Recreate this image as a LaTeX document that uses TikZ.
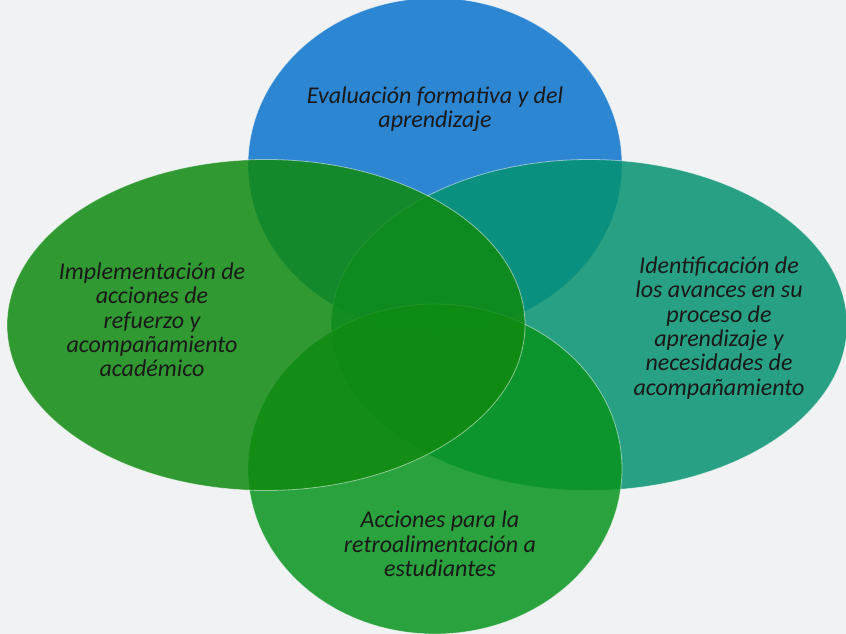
\documentclass[tikz,border=0pt]{standalone}
\usepackage{fontspec}
\setmainfont{Carlito}
\usepackage{tikz}
\usetikzlibrary{shapes.geometric}
\definecolor{bgpaper}{RGB}{241,242,244}
\definecolor{vblue}{RGB}{11,116,205}
\definecolor{vteal}{RGB}{5,146,112}
\definecolor{vgreen}{RGB}{8,148,30}
\definecolor{vleaf}{RGB}{16,138,16}

\begin{document}
\begin{tikzpicture}[
    x=1pt, y=-1pt,
    venn/.style={ellipse, inner sep=0pt, draw=white, draw opacity=0.5,
        line width=0.8pt, fill opacity=0.85},
    label/.style={align=center, text=black!90,
        font=\fontsize{24}{24.3}\selectfont\itshape}
]
    \fill[bgpaper] (0,0) rectangle (846,634);
    \useasboundingbox (0,0) rectangle (846,634);
    \node[venn, fill=vblue, minimum width=374pt, minimum height=334pt] (eval) at (435,165) {};
    \node[venn, fill=vteal, minimum width=516pt, minimum height=331pt] (ident) at (589,325) {};
    \node[venn, fill=vgreen, minimum width=374pt, minimum height=330pt] (retro) at (435,469) {};
    \node[venn, fill=vleaf, minimum width=518pt, minimum height=331pt] (impl) at (266,325) {};

    \node[label] (evaltxt) at (435,109) {Evaluación formativa y del\\aprendizaje};
    \node[label] (identtxt) at (719,328) {Identificación de\\los avances en su\\proceso de\\aprendizaje y\\necesidades de\\acompañamiento};
    \node[label] (retrotxt) at (440,544) {Acciones para la\\retroalimentación a\\estudiantes};
    \node[label] (impltxt) at (152,320) {Implementación de\\acciones de\\refuerzo y\\acompañamiento\\académico};
\end{tikzpicture}
\end{document}
